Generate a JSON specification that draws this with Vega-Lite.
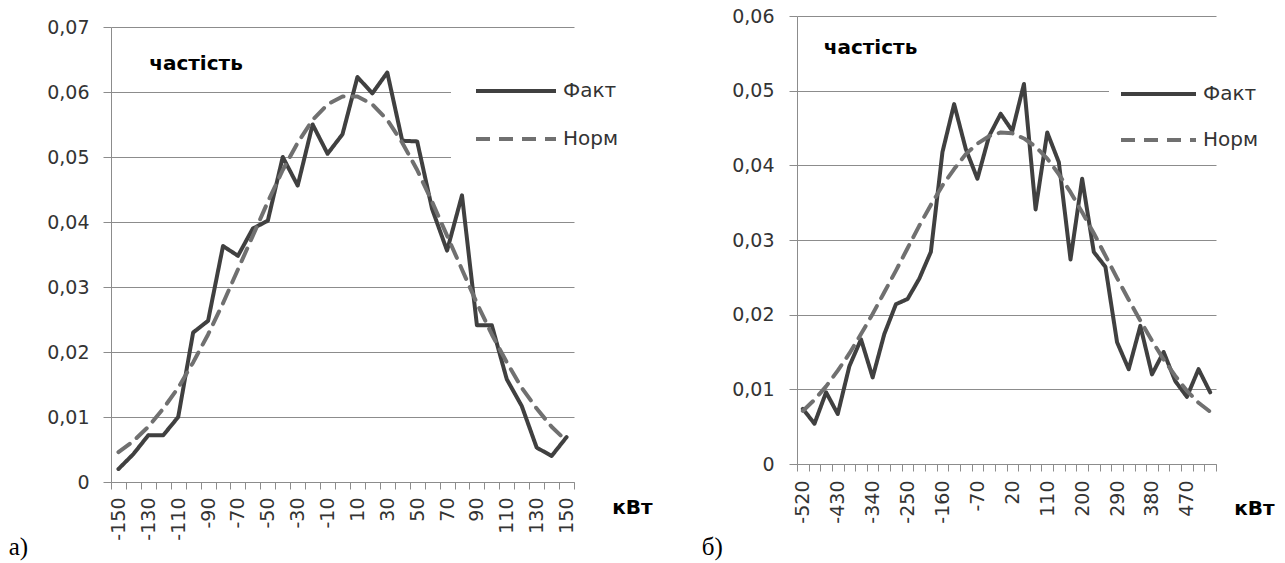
{
  "$schema": "https://vega.github.io/schema/vega-lite/v6.json",
  "background": "white",
  "padding": {"left": 8, "top": 7, "right": 5, "bottom": 0},
  "bounds": "flush",
  "spacing": 223,
  "config": {
    "view": {"stroke": null},
    "font": "DejaVu Sans",
    "axis": {
      "domainColor": "#8c8c8c",
      "tickColor": "#8c8c8c",
      "gridColor": "#8c8c8c",
      "labelColor": "#333333",
      "labelFont": "DejaVu Sans",
      "labelFontSize": 19,
      "titleFont": "DejaVu Sans",
      "titleFontSize": 20,
      "titleFontWeight": "bold",
      "titleColor": "#000000"
    }
  },
  "datasets": {
    "a": [
      {"kw": -150, "f": 0.0020, "s": "Факт"}, {"kw": -140, "f": 0.0043, "s": "Факт"}, {"kw": -130, "f": 0.0072, "s": "Факт"},
      {"kw": -120, "f": 0.0072, "s": "Факт"}, {"kw": -110, "f": 0.0100, "s": "Факт"}, {"kw": -100, "f": 0.0230, "s": "Факт"},
      {"kw": -90, "f": 0.0248, "s": "Факт"}, {"kw": -80, "f": 0.0363, "s": "Факт"}, {"kw": -70, "f": 0.0348, "s": "Факт"},
      {"kw": -60, "f": 0.0390, "s": "Факт"}, {"kw": -50, "f": 0.0402, "s": "Факт"}, {"kw": -40, "f": 0.0500, "s": "Факт"},
      {"kw": -30, "f": 0.0456, "s": "Факт"}, {"kw": -20, "f": 0.0550, "s": "Факт"}, {"kw": -10, "f": 0.0505, "s": "Факт"},
      {"kw": 0, "f": 0.0535, "s": "Факт"}, {"kw": 10, "f": 0.0623, "s": "Факт"}, {"kw": 20, "f": 0.0598, "s": "Факт"},
      {"kw": 30, "f": 0.0630, "s": "Факт"}, {"kw": 40, "f": 0.0525, "s": "Факт"}, {"kw": 50, "f": 0.0524, "s": "Факт"},
      {"kw": 60, "f": 0.0420, "s": "Факт"}, {"kw": 70, "f": 0.0356, "s": "Факт"}, {"kw": 80, "f": 0.0441, "s": "Факт"},
      {"kw": 90, "f": 0.0241, "s": "Факт"}, {"kw": 100, "f": 0.0241, "s": "Факт"}, {"kw": 110, "f": 0.0158, "s": "Факт"},
      {"kw": 120, "f": 0.0117, "s": "Факт"}, {"kw": 130, "f": 0.0053, "s": "Факт"}, {"kw": 140, "f": 0.0040, "s": "Факт"},
      {"kw": 150, "f": 0.0069, "s": "Факт"},
      {"kw": -150, "f": 0.0046, "s": "Норм"}, {"kw": -140, "f": 0.0063, "s": "Норм"}, {"kw": -130, "f": 0.0085, "s": "Норм"},
      {"kw": -120, "f": 0.0113, "s": "Норм"}, {"kw": -110, "f": 0.0145, "s": "Норм"}, {"kw": -100, "f": 0.0184, "s": "Норм"},
      {"kw": -90, "f": 0.0227, "s": "Норм"}, {"kw": -80, "f": 0.0275, "s": "Норм"}, {"kw": -70, "f": 0.0327, "s": "Норм"},
      {"kw": -60, "f": 0.0379, "s": "Норм"}, {"kw": -50, "f": 0.0431, "s": "Норм"}, {"kw": -40, "f": 0.0480, "s": "Норм"},
      {"kw": -30, "f": 0.0522, "s": "Норм"}, {"kw": -20, "f": 0.0557, "s": "Норм"}, {"kw": -10, "f": 0.0581, "s": "Норм"},
      {"kw": 0, "f": 0.0593, "s": "Норм"}, {"kw": 10, "f": 0.0593, "s": "Норм"}, {"kw": 20, "f": 0.0581, "s": "Норм"},
      {"kw": 30, "f": 0.0557, "s": "Норм"}, {"kw": 40, "f": 0.0522, "s": "Норм"}, {"kw": 50, "f": 0.0480, "s": "Норм"},
      {"kw": 60, "f": 0.0431, "s": "Норм"}, {"kw": 70, "f": 0.0379, "s": "Норм"}, {"kw": 80, "f": 0.0327, "s": "Норм"},
      {"kw": 90, "f": 0.0275, "s": "Норм"}, {"kw": 100, "f": 0.0227, "s": "Норм"}, {"kw": 110, "f": 0.0184, "s": "Норм"},
      {"kw": 120, "f": 0.0145, "s": "Норм"}, {"kw": 130, "f": 0.0113, "s": "Норм"}, {"kw": 140, "f": 0.0085, "s": "Норм"},
      {"kw": 150, "f": 0.0063, "s": "Норм"}
    ],
    "b": [
      {"kw": -520, "f": 0.0074, "s": "Факт"}, {"kw": -490, "f": 0.0054, "s": "Факт"}, {"kw": -460, "f": 0.0096, "s": "Факт"},
      {"kw": -430, "f": 0.0067, "s": "Факт"}, {"kw": -400, "f": 0.0131, "s": "Факт"}, {"kw": -370, "f": 0.0167, "s": "Факт"},
      {"kw": -340, "f": 0.0116, "s": "Факт"}, {"kw": -310, "f": 0.0174, "s": "Факт"}, {"kw": -280, "f": 0.0214, "s": "Факт"},
      {"kw": -250, "f": 0.0221, "s": "Факт"}, {"kw": -220, "f": 0.0248, "s": "Факт"}, {"kw": -190, "f": 0.0284, "s": "Факт"},
      {"kw": -160, "f": 0.0418, "s": "Факт"}, {"kw": -130, "f": 0.0482, "s": "Факт"}, {"kw": -100, "f": 0.0422, "s": "Факт"},
      {"kw": -70, "f": 0.0382, "s": "Факт"}, {"kw": -40, "f": 0.0439, "s": "Факт"}, {"kw": -10, "f": 0.0469, "s": "Факт"},
      {"kw": 20, "f": 0.0446, "s": "Факт"}, {"kw": 50, "f": 0.0509, "s": "Факт"}, {"kw": 80, "f": 0.0341, "s": "Факт"},
      {"kw": 110, "f": 0.0444, "s": "Факт"}, {"kw": 140, "f": 0.0404, "s": "Факт"}, {"kw": 170, "f": 0.0274, "s": "Факт"},
      {"kw": 200, "f": 0.0382, "s": "Факт"}, {"kw": 230, "f": 0.0284, "s": "Факт"}, {"kw": 260, "f": 0.0264, "s": "Факт"},
      {"kw": 290, "f": 0.0163, "s": "Факт"}, {"kw": 320, "f": 0.0127, "s": "Факт"}, {"kw": 350, "f": 0.0185, "s": "Факт"},
      {"kw": 380, "f": 0.0120, "s": "Факт"}, {"kw": 410, "f": 0.0150, "s": "Факт"}, {"kw": 440, "f": 0.0111, "s": "Факт"},
      {"kw": 470, "f": 0.0090, "s": "Факт"}, {"kw": 500, "f": 0.0127, "s": "Факт"}, {"kw": 530, "f": 0.0096, "s": "Факт"},
      {"kw": -520, "f": 0.0071, "s": "Норм"}, {"kw": -490, "f": 0.0086, "s": "Норм"}, {"kw": -460, "f": 0.0104, "s": "Норм"},
      {"kw": -430, "f": 0.0125, "s": "Норм"}, {"kw": -400, "f": 0.0148, "s": "Норм"}, {"kw": -370, "f": 0.0174, "s": "Норм"},
      {"kw": -340, "f": 0.0201, "s": "Норм"}, {"kw": -310, "f": 0.0230, "s": "Норм"}, {"kw": -280, "f": 0.0259, "s": "Норм"},
      {"kw": -250, "f": 0.0289, "s": "Норм"}, {"kw": -220, "f": 0.0319, "s": "Норм"}, {"kw": -190, "f": 0.0347, "s": "Норм"},
      {"kw": -160, "f": 0.0373, "s": "Норм"}, {"kw": -130, "f": 0.0395, "s": "Норм"}, {"kw": -100, "f": 0.0415, "s": "Норм"},
      {"kw": -70, "f": 0.0429, "s": "Норм"}, {"kw": -40, "f": 0.0439, "s": "Норм"}, {"kw": -10, "f": 0.0444, "s": "Норм"},
      {"kw": 20, "f": 0.0443, "s": "Норм"}, {"kw": 50, "f": 0.0436, "s": "Норм"}, {"kw": 80, "f": 0.0425, "s": "Норм"},
      {"kw": 110, "f": 0.0409, "s": "Норм"}, {"kw": 140, "f": 0.0388, "s": "Норм"}, {"kw": 170, "f": 0.0364, "s": "Норм"},
      {"kw": 200, "f": 0.0337, "s": "Норм"}, {"kw": 230, "f": 0.0309, "s": "Норм"}, {"kw": 260, "f": 0.0279, "s": "Норм"},
      {"kw": 290, "f": 0.0249, "s": "Норм"}, {"kw": 320, "f": 0.0220, "s": "Норм"}, {"kw": 350, "f": 0.0192, "s": "Норм"},
      {"kw": 380, "f": 0.0165, "s": "Норм"}, {"kw": 410, "f": 0.0140, "s": "Норм"}, {"kw": 440, "f": 0.0118, "s": "Норм"},
      {"kw": 470, "f": 0.0098, "s": "Норм"}, {"kw": 500, "f": 0.0082, "s": "Норм"}, {"kw": 530, "f": 0.0070, "s": "Норм"}
    ]
  },
  "hconcat": [
    {
      "width": 463,
      "height": 466,
      "data": {"name": "a"},
      "title": {"text": "а)", "orient": "bottom", "anchor": "start", "frame": "bounds", "font": "Liberation Serif", "fontSize": 25, "fontWeight": "normal", "color": "#000000", "dx": -38, "offset": -5},
      "mark": {"type": "line", "strokeWidth": 4, "strokeCap": "round", "strokeJoin": "round"},
      "encoding": {
        "x": {
          "field": "kw", "type": "ordinal",
          "scale": {"type": "band", "paddingInner": 0, "paddingOuter": 0},
          "axis": {
            "title": "кВт", "titleX": 521, "titleY": 25, "titleAlign": "center", "titleBaseline": "middle",
            "labelAngle": -90, "labelPadding": 8, "labelOverlap": false,
            "labelExpr": "abs(datum.value) % 20 == 10 ? datum.label : ''",
            "tickBand": "extent", "tickSize": 7, "grid": false
          }
        },
        "y": {
          "field": "f", "type": "quantitative",
          "scale": {"domain": [0, 0.07], "range": [466, 11], "nice": false},
          "axis": {
            "title": "частість", "titleAngle": 0, "titleX": 84.5, "titleY": 47, "titleAlign": "center", "titleBaseline": "middle",
            "values": [0, 0.01, 0.02, 0.03, 0.04, 0.05, 0.06, 0.07],
            "labelExpr": "datum.value == 0 ? '0' : replace(format(datum.value, '.2f'), '.', ',')",
            "labelPadding": 14, "tickSize": 8, "grid": true
          }
        },
        "color": {
          "field": "s", "type": "nominal",
          "scale": {"domain": ["Факт", "Норм"], "range": ["#404040", "#707070"]},
          "legend": {"orient": "none", "legendX": 340, "legendY": 40, "title": null, "symbolType": "M-10,0H70", "symbolSize": 4, "symbolStrokeWidth": 4, "labelFontSize": 20, "labelColor": "#333333", "labelOffset": 67, "rowPadding": 28, "padding": 25, "fillColor": "white"}
        },
        "strokeDash": {
          "field": "s", "type": "nominal",
          "scale": {"domain": ["Факт", "Норм"], "range": [[1, 0], [14, 9]]},
          "legend": {"orient": "none", "legendX": 340, "legendY": 40, "title": null, "symbolType": "M-10,0H70", "symbolSize": 4, "symbolStrokeWidth": 4, "labelFontSize": 20, "labelColor": "#333333", "labelOffset": 67, "rowPadding": 28, "padding": 25, "fillColor": "white"}
        }
      }
    },
    {
      "width": 419,
      "height": 448,
      "data": {"name": "b"},
      "title": {"text": "б)", "orient": "bottom", "anchor": "start", "frame": "bounds", "font": "Liberation Serif", "fontSize": 25, "fontWeight": "normal", "color": "#000000", "dx": -30, "offset": 12},
      "mark": {"type": "line", "strokeWidth": 4, "strokeCap": "round", "strokeJoin": "round"},
      "encoding": {
        "x": {
          "field": "kw", "type": "ordinal",
          "scale": {"type": "band", "paddingInner": 0, "paddingOuter": 0},
          "axis": {
            "title": "кВт", "titleX": 457, "titleY": 44, "titleAlign": "center", "titleBaseline": "middle",
            "labelAngle": -90, "labelPadding": 9, "labelOverlap": false,
            "labelExpr": "(datum.value + 520) % 90 == 0 ? datum.label : ''",
            "tickBand": "extent", "tickSize": 7, "grid": false
          }
        },
        "y": {
          "field": "f", "type": "quantitative",
          "scale": {"domain": [0, 0.06], "nice": false},
          "axis": {
            "title": "частість", "titleAngle": 0, "titleX": 73, "titleY": 31, "titleAlign": "center", "titleBaseline": "middle",
            "values": [0, 0.01, 0.02, 0.03, 0.04, 0.05, 0.06],
            "labelExpr": "datum.value == 0 ? '0' : replace(format(datum.value, '.2f'), '.', ',')",
            "labelPadding": 15, "tickSize": 8, "grid": true
          }
        },
        "color": {
          "field": "s", "type": "nominal",
          "scale": {"domain": ["Факт", "Норм"], "range": ["#404040", "#707070"]},
          "legend": {"orient": "none", "legendX": 312, "legendY": 56, "title": null, "symbolType": "M-10,0H65", "symbolSize": 4, "symbolStrokeWidth": 4, "labelFontSize": 20, "labelColor": "#333333", "labelOffset": 62, "rowPadding": 26, "padding": 12, "fillColor": "white"}
        },
        "strokeDash": {
          "field": "s", "type": "nominal",
          "scale": {"domain": ["Факт", "Норм"], "range": [[1, 0], [14, 9]]},
          "legend": {"orient": "none", "legendX": 312, "legendY": 56, "title": null, "symbolType": "M-10,0H65", "symbolSize": 4, "symbolStrokeWidth": 4, "labelFontSize": 20, "labelColor": "#333333", "labelOffset": 62, "rowPadding": 26, "padding": 12, "fillColor": "white"}
        }
      }
    }
  ],
  "resolve": {"scale": {"x": "independent", "y": "independent", "color": "independent", "strokeDash": "independent"}, "legend": {"color": "independent", "strokeDash": "independent"}}
}
